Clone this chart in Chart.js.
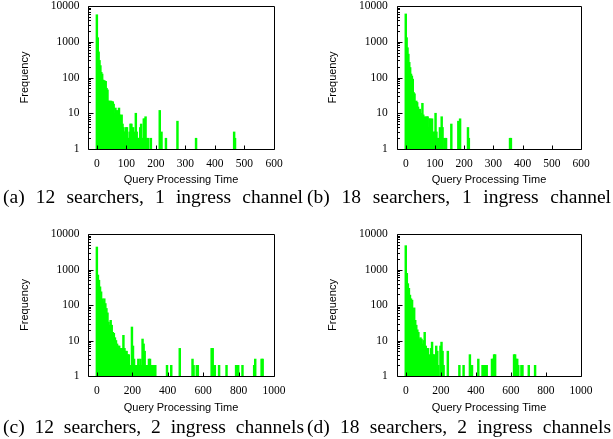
<!DOCTYPE html>
<html><head><meta charset="utf-8">
<script src="https://cdn.jsdelivr.net/npm/chart.js@4.4.1/dist/chart.umd.min.js"></script>
<style>
html,body{margin:0;padding:0;background:#fff;}
#wrap{position:relative;width:613px;height:439px;overflow:hidden;background:#fff;}
canvas{position:absolute;left:0;top:0;}
.cap{position:absolute;font-family:'Liberation Serif';font-size:19.5px;line-height:20px;color:#000;text-align:justify;text-align-last:justify;white-space:nowrap;}
</style></head><body>
<div id="wrap">
<canvas id="cA" width="613" height="439"></canvas>
<canvas id="cB" width="613" height="439"></canvas>
<canvas id="cC" width="613" height="439"></canvas>
<canvas id="cD" width="613" height="439"></canvas>
<div class="cap" style="left:3px;top:187px;width:300px">(a) 12 searchers, 1 ingress channel</div>
<div class="cap" style="left:307px;top:187px;width:304px">(b) 18 searchers, 1 ingress channel</div>
<div class="cap" style="left:3px;top:417px;width:301px">(c) 12 searchers, 2 ingress channels</div>
<div class="cap" style="left:307px;top:417px;width:304px">(d) 18 searchers, 2 ingress channels</div>
</div>
<script>
// ---- data ----
const xTicksShort = [0, 100, 200, 300, 400, 500, 600];
const xTicksLong = [0, 200, 400, 600, 800, 1000];
const yTicks = [1, 10, 100, 1000, 10000];

// (a) 12 searchers, 1 ingress channel
const timeA = [0,3,6,9,12,15,18,21,24,27,30,33,36,39,42,45,48,51,54,57,60,63,66,69,72,75,78,81,84,87,90,93,96,99,102,105,108,111,114,117,120,123,126,129,132,135,138,141,144,147,150,153,156,159,162,165,168,174,183,213,219,234,273,336,465,468];
const freqA = [5700,1300,520,300,215,140,125,85,82,80,78,50,45,22,22,21,22,21,21,18,10,14,11,12,8,14,9,6,9,5,4,3,3,4,4,2,2,3,5,5,3,4,2,3,10,3,2,2,2,4,5,2,2,7,7,8,2,2,2,12,3,2,6,2,3,2];

// (b) 18 searchers, 1 ingress channel
const timeB = [0,3,6,9,12,15,18,21,24,27,30,33,36,39,42,45,48,51,54,57,60,63,66,69,72,75,78,81,84,87,90,93,96,99,102,105,108,111,117,120,123,126,132,138,156,180,186,213,216,357,360];
const freqB = [6000,1300,680,450,265,190,125,110,90,38,35,18,22,20,15,12,13,9,10,19,9,7,8,7,8,8,4,7,7,4,7,2,3,3,10,3,2,2,4,3,8,4,2,2,5,6,7,4,2,2,2];

// (c) 12 searchers, 2 ingress channels
const timeC = [0,6,12,18,24,30,36,42,48,54,60,66,72,78,84,90,96,102,108,114,120,126,132,138,144,150,156,162,168,174,180,186,192,198,204,210,216,222,228,234,240,246,252,258,264,270,276,282,294,300,306,312,318,324,330,396,420,468,540,546,564,570,648,654,660,666,690,732,786,792,798,822,888,894,930,936];
const freqC = [4300,700,500,325,235,150,123,150,110,80,60,33,27,37,27,17,16,12,10,8,7,7,6,6,6,14,6,5,5,4,4,2,2,24,7,3,2,2,2,3,2,3,2,11,8,5,2,2,3,3,2,2,2,2,2,2,2,6,3,2,2,2,6,6,2,2,2,2,2,2,2,2,2,3,3,3];

// (d) 18 searchers, 2 ingress channels
const timeD = [0,6,12,18,24,30,36,42,48,54,60,66,72,78,84,90,96,102,108,114,120,126,132,138,144,150,156,162,168,174,180,186,198,204,210,216,240,306,330,366,372,378,414,438,444,450,456,462,492,498,504,510,618,624,630,636,642,660,666,702,738];
const freqD = [4700,780,400,295,190,150,137,80,83,37,27,20,17,11,12,11,8,10,17,7,6,6,4,3,6,9,4,4,3,7,5,2,7,9,5,2,5,2,2,4,2,2,3,2,2,2,2,2,3,3,4,4,4,4,3,3,2,2,2,2,2];

// ---- drawing ----
const framePlugin = {
  id: 'frame',
  afterDatasetsDraw(chart) {
    const {ctx, chartArea: a, scales: {x, y}} = chart;
    ctx.save();
    ctx.strokeStyle = '#000';
    ctx.lineWidth = 1;
    const L = Math.round(a.left) + 0.5, R = Math.round(a.right) + 0.5;
    const T = Math.round(a.top) + 0.5, B = Math.round(a.bottom) + 0.5;
    ctx.beginPath();
    ctx.rect(L, T, R - L, B - T);
    y.ticks.forEach(t => {
      const p = Math.round(y.getPixelForValue(t.value)) + 0.5;
      ctx.moveTo(L, p); ctx.lineTo(L + 5, p);
    });
    yTicks.slice(0, -1).forEach(d => {
      for (let m = 2; m < 10; m++) {
        const p = Math.round(y.getPixelForValue(d * m)) + 0.5;
        ctx.moveTo(L, p); ctx.lineTo(L + 2.5, p);
      }
    });
    x.ticks.forEach(t => {
      const p = Math.round(x.getPixelForValue(t.value)) + 0.5;
      ctx.moveTo(p, B); ctx.lineTo(p, B - 4);
    });
    ctx.stroke();
    ctx.restore();
  }
};

function makeChart(id, times, freqs, xMin, xMax, xTicks, g) {
  const W = 613, H = 439;
  const half = 11 * 1.2 / 2;
  const padLeft = g.yTitleX - half;
  const padBottom = H - (g.xTitleY + half);
  const yWidth = g.left - padLeft;
  const xHeight = (H - padBottom) - g.bottom;
  new Chart(document.getElementById(id), {
    type: 'bar',
    data: {
      datasets: [{
        data: times.map((t, i) => ({x: t, y: freqs[i]})),
        backgroundColor: '#00ff00',
        borderWidth: 0,
        barThickness: 1.8
      }]
    },
    options: {
      responsive: false,
      animation: false,
      devicePixelRatio: 1,
      layout: {padding: {left: padLeft, right: W - g.right, top: g.top, bottom: padBottom}},
      plugins: {legend: {display: false}, tooltip: {enabled: false}},
      scales: {
        x: {
          type: 'linear', min: xMin, max: xMax, offset: false,
          grid: {display: false, drawTicks: false}, border: {display: false},
          afterBuildTicks: s => { s.ticks = xTicks.map(v => ({value: v})); },
          afterFit: s => { s.height = xHeight; s.paddingLeft = 0; s.paddingRight = 0; },
          ticks: {autoSkip: false, maxRotation: 0, align: 'center', padding: g.xLabelPad, color: '#000',
                  font: {family: 'Liberation Serif', size: 11.5}, callback: v => String(v)},
          title: {display: true, text: 'Query Processing Time', color: '#000', padding: 0,
                  font: {family: 'Liberation Sans', size: 11}}
        },
        y: {
          type: 'logarithmic', min: 1, max: 10000,
          grid: {display: false, drawTicks: false}, border: {display: false},
          afterBuildTicks: s => { s.ticks = yTicks.map(v => ({value: v})); },
          afterFit: s => { s.width = yWidth; s.paddingTop = 0; s.paddingBottom = 0; },
          ticks: {autoSkip: false, padding: g.yLabelPad, color: '#000',
                  font: {family: 'Liberation Serif', size: 11.5}, callback: v => String(v)},
          title: {display: true, text: 'Frequency', color: '#000', padding: 0,
                  font: {family: 'Liberation Sans', size: 11}}
        }
      }
    },
    plugins: [framePlugin]
  });
}

makeChart('cA', timeA, freqA, -30, 600, xTicksShort,
  {left: 88, right: 274, top: 6, bottom: 149, yTitleX: 25, xTitleY: 180, xLabelPad: 8, yLabelPad: 8.5});
makeChart('cB', timeB, freqB, -30, 600, xTicksShort,
  {left: 397, right: 581, top: 6, bottom: 149, yTitleX: 333, xTitleY: 180, xLabelPad: 8, yLabelPad: 9.3});
makeChart('cC', timeC, freqC, -50, 1000, xTicksLong,
  {left: 88, right: 274, top: 234, bottom: 376, yTitleX: 25, xTitleY: 408, xLabelPad: 8.5, yLabelPad: 8.5});
makeChart('cD', timeD, freqD, -50, 1000, xTicksLong,
  {left: 397, right: 581, top: 234, bottom: 376, yTitleX: 333, xTitleY: 408, xLabelPad: 8.5, yLabelPad: 9.3});
</script>
</body></html>
